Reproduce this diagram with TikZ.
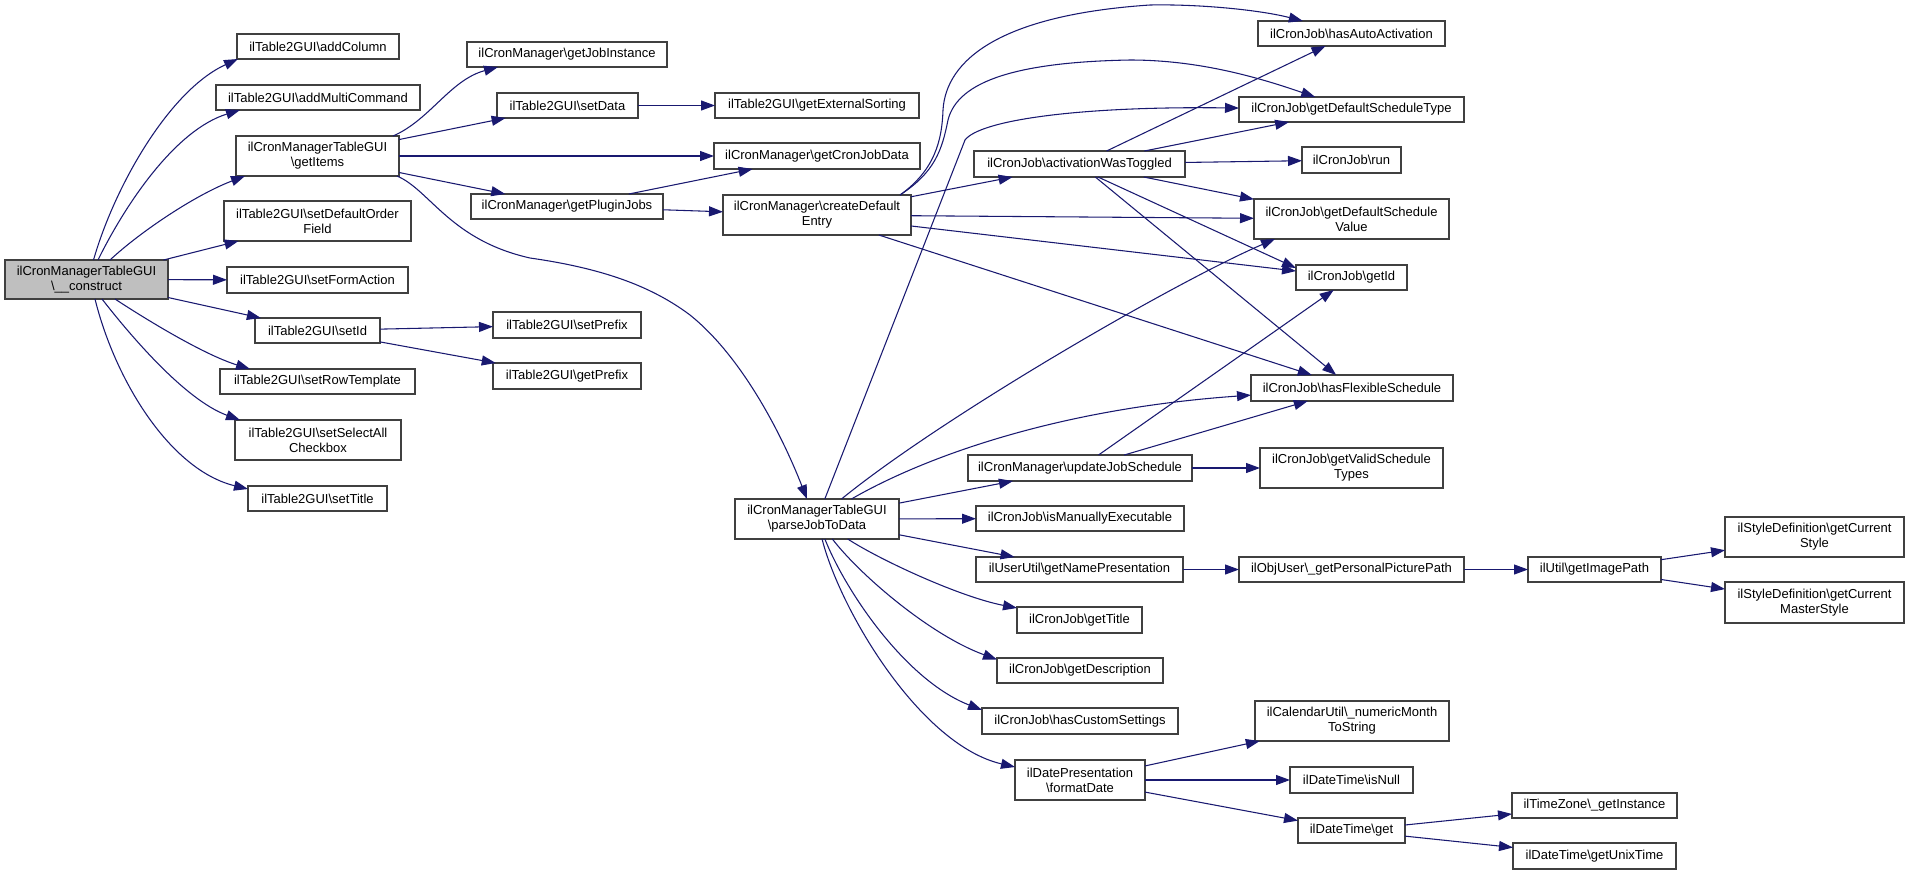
\documentclass[tikz,border=0pt]{standalone}
\usepackage{fontspec}
\setmainfont{Liberation Sans}
\usetikzlibrary{arrows.meta,calc}
\definecolor{edgeblue}{HTML}{191970}
\definecolor{boxline}{HTML}{404040}
\definecolor{rootfill}{HTML}{BFBFBF}
\newcommand{\fnbs}{\textbackslash}
\newcommand{\fnbox}[7][]{%
  \pgfmathsetmacro{\fnX}{(#3+#5)/2}%
  \pgfmathsetmacro{\fnY}{(#4+#6)/2}%
  \pgfmathsetmacro{\fnW}{(#5-#3)*0.75}%
  \pgfmathsetmacro{\fnH}{(#6-#4)*0.75}%
  \node[fnnode,#1,minimum width=\fnW pt,minimum height=\fnH pt] (#2) at (\fnX,\fnY) {#7};}
\tikzset{
  fnnode/.style={draw=boxline, line width=0.8pt, fill=white, inner sep=0pt, outer sep=0pt,
    align=center, text=black, font=\fontsize{9.75}{11.25}\selectfont},
  rootnode/.style={fill=rootfill},
  callarrow/.style={draw=edgeblue, line width=0.8pt, -{Triangle[length=10.5pt,width=7.5pt]}, fill=none}
}
\begin{document}
\begin{tikzpicture}[x=0.75pt,y=-0.75pt]
\useasboundingbox (0,0) rectangle (1909,875);
% nodes
\fnbox[rootnode]{constructNode}{5}{260}{168}{299}{ilCronManagerTableGUI\\\fnbs\_\_construct}
\fnbox{addColumn}{237}{34}{399}{59}{ilTable2GUI\fnbs addColumn}
\fnbox{addMultiCommand}{216}{85}{420}{110}{ilTable2GUI\fnbs addMultiCommand}
\fnbox{getItems}{236}{136}{399}{176}{ilCronManagerTableGUI\\\fnbs getItems}
\fnbox{setDefaultOrderField}{224}{201}{411}{241}{ilTable2GUI\fnbs setDefaultOrder\\Field}
\fnbox{setFormAction}{227}{267}{408}{293}{ilTable2GUI\fnbs setFormAction}
\fnbox{setId}{255}{318}{380}{343}{ilTable2GUI\fnbs setId}
\fnbox{setRowTemplate}{220}{369}{415}{394}{ilTable2GUI\fnbs setRowTemplate}
\fnbox{setSelectAll}{235}{420}{401}{460}{ilTable2GUI\fnbs setSelectAll\\Checkbox}
\fnbox{setTitle}{248}{486}{387}{511}{ilTable2GUI\fnbs setTitle}
\fnbox{getJobInstance}{467}{42}{667}{67}{ilCronManager\fnbs getJobInstance}
\fnbox{setData}{497}{93}{638}{118}{ilTable2GUI\fnbs setData}
\fnbox{getExternalSorting}{715}{93}{919}{118}{ilTable2GUI\fnbs getExternalSorting}
\fnbox{getCronJobData}{714}{143}{920}{169}{ilCronManager\fnbs getCronJobData}
\fnbox{getPluginJobs}{471}{194}{663}{219}{ilCronManager\fnbs getPluginJobs}
\fnbox{createDefaultEntry}{723}{195}{911}{235}{ilCronManager\fnbs createDefault\\Entry}
\fnbox{setPrefix}{493}{312}{641}{338}{ilTable2GUI\fnbs setPrefix}
\fnbox{getPrefix}{493}{363}{641}{389}{ilTable2GUI\fnbs getPrefix}
\fnbox{parseJobToData}{735}{499}{899}{539}{ilCronManagerTableGUI\\\fnbs parseJobToData}
\fnbox{hasAutoActivation}{1258}{21}{1445}{46}{ilCronJob\fnbs hasAutoActivation}
\fnbox{getDefaultScheduleType}{1239}{97}{1464}{122}{ilCronJob\fnbs getDefaultScheduleType}
\fnbox{activationWasToggled}{974}{151}{1185}{177}{ilCronJob\fnbs activationWasToggled}
\fnbox{run}{1302}{147}{1401}{173}{ilCronJob\fnbs run}
\fnbox{getDefaultScheduleValue}{1254}{199}{1449}{239}{ilCronJob\fnbs getDefaultSchedule\\Value}
\fnbox{getId}{1296}{265}{1407}{290}{ilCronJob\fnbs getId}
\fnbox{hasFlexibleSchedule}{1251}{375}{1453}{401}{ilCronJob\fnbs hasFlexibleSchedule}
\fnbox{updateJobSchedule}{968}{455}{1192}{481}{ilCronManager\fnbs updateJobSchedule}
\fnbox{getValidScheduleTypes}{1260}{448}{1443}{488}{ilCronJob\fnbs getValidSchedule\\Types}
\fnbox{isManuallyExecutable}{976}{506}{1184}{531}{ilCronJob\fnbs isManuallyExecutable}
\fnbox{getNamePresentation}{976}{557}{1183}{582}{ilUserUtil\fnbs getNamePresentation}
\fnbox{getPersonalPicturePath}{1239}{557}{1464}{582}{ilObjUser\fnbs\_getPersonalPicturePath}
\fnbox{getImagePath}{1528}{557}{1661}{582}{ilUtil\fnbs getImagePath}
\fnbox{getCurrentStyle}{1725}{517}{1904}{557}{ilStyleDefinition\fnbs getCurrent\\Style}
\fnbox{getCurrentMasterStyle}{1725}{582}{1904}{623}{ilStyleDefinition\fnbs getCurrent\\MasterStyle}
\fnbox{getTitle}{1017}{607}{1142}{633}{ilCronJob\fnbs getTitle}
\fnbox{getDescription}{997}{658}{1163}{683}{ilCronJob\fnbs getDescription}
\fnbox{hasCustomSettings}{982}{708}{1178}{734}{ilCronJob\fnbs hasCustomSettings}
\fnbox{formatDate}{1015}{760}{1145}{800}{ilDatePresentation\\\fnbs formatDate}
\fnbox{numericMonthToString}{1255}{701}{1449}{741}{ilCalendarUtil\fnbs\_numericMonth\\ToString}
\fnbox{isNull}{1290}{767}{1413}{793}{ilDateTime\fnbs isNull}
\fnbox{get}{1298}{818}{1405}{843}{ilDateTime\fnbs get}
\fnbox{getInstance}{1512}{793}{1677}{818}{ilTimeZone\fnbs\_getInstance}
\fnbox{getUnixTime}{1513}{843}{1676}{869}{ilDateTime\fnbs getUnixTime}
% edges from construct
\draw[callarrow] ($(constructNode.north)+(7,0)$) .. controls (115,185) and (170,90) .. ($(addColumn.south west)+(1,0)$);
\draw[callarrow] ($(constructNode.north)+(11.5,0)$) .. controls (125,205) and (175,130) .. ($(addMultiCommand.south west)+(24,0)$);
\draw[callarrow] ($(constructNode.north)+(23.5,0)$) .. controls (140,232) and (195,195) .. ($(getItems.south west)+(9,0)$);
\draw[callarrow] (constructNode) -- (setDefaultOrderField);
\draw[callarrow] (constructNode) -- (setFormAction);
\draw[callarrow] (constructNode) -- (setId);
\draw[callarrow] ($(constructNode.south)+(28.5,0)$) .. controls (150,322) and (205,355) .. ($(setRowTemplate.north west)+(30,0)$);
\draw[callarrow] ($(constructNode.south)+(15.5,0)$) .. controls (130,335) and (185,400) .. ($(setSelectAll.north west)+(5,0)$);
\draw[callarrow] ($(constructNode.south)+(8.5,0)$) .. controls (115,380) and (170,470) .. ($(setTitle.north west)+(0,3)$);
% edges from getItems
\draw[callarrow] ($(getItems.north east)+(-6,0)$) .. controls (430,120) and (450,80) .. ($(getJobInstance.south west)+(31,0)$);
\draw[callarrow] (getItems) -- (setData);
\draw[callarrow] (getItems) -- (getCronJobData);
\draw[callarrow] (getItems) -- (getPluginJobs);
\draw[callarrow] ($(getItems.south east)+(-2,0)$) .. controls (430,190) and (450,240) .. (530,258) .. controls (600,268) and (650,285) .. (690,315) .. controls (740,355) and (780,430) .. ($(parseJobToData.north)+(-10,0)$);
% second level
\draw[callarrow] (setData) -- (getExternalSorting);
\draw[callarrow] (setId) -- (setPrefix);
\draw[callarrow] (setId) -- (getPrefix);
\draw[callarrow] (getPluginJobs) -- (getCronJobData);
\draw[callarrow] (getPluginJobs) -- (createDefaultEntry);
% createDefaultEntry
\draw[callarrow] ($(createDefaultEntry.north east)+(-11,0)$) .. controls (935,170) and (942,140) .. (943,110) .. controls (946,60) and (1000,15) .. (1150,5) .. controls (1200,4) and (1260,10) .. (hasAutoActivation);
\draw[callarrow] ($(createDefaultEntry.north east)+(-11,0)$) .. controls (935,172) and (942,150) .. (948,120) .. controls (958,80) and (1020,62) .. (1130,60) .. controls (1200,60) and (1260,78) .. (getDefaultScheduleType);
\draw[callarrow] (createDefaultEntry) -- (activationWasToggled);
\draw[callarrow] (createDefaultEntry) -- (getDefaultScheduleValue);
\draw[callarrow] (createDefaultEntry) -- (getId);
\draw[callarrow] (createDefaultEntry) -- (hasFlexibleSchedule);
% activationWasToggled
\draw[callarrow] (activationWasToggled) -- (hasAutoActivation);
\draw[callarrow] (activationWasToggled) -- (getDefaultScheduleType);
\draw[callarrow] (activationWasToggled) -- (run);
\draw[callarrow] (activationWasToggled) -- (getDefaultScheduleValue);
\draw[callarrow] ($(activationWasToggled.south)+(18.5,0)$) -- ($(getId.west)+(0,-9.5)$);
\draw[callarrow] (activationWasToggled) -- (hasFlexibleSchedule);
% parseJobToData
\draw[callarrow] (parseJobToData) -- (965,140) .. controls (980,120) and (1080,106) .. (getDefaultScheduleType);
\draw[callarrow] (parseJobToData) .. controls (942,417) and (1175,282) .. ($(getDefaultScheduleValue.south west)+(21,0)$);
\draw[callarrow] (parseJobToData) .. controls (910,465) and (1040,410) .. (hasFlexibleSchedule);
\draw[callarrow] (parseJobToData) -- (updateJobSchedule);
\draw[callarrow] (parseJobToData) -- (isManuallyExecutable);
\draw[callarrow] (parseJobToData) -- (getNamePresentation);
\draw[callarrow] (parseJobToData) .. controls (880,560) and (960,597) .. (getTitle);
\draw[callarrow] (parseJobToData) .. controls (860,575) and (930,635) .. ($(getDescription.north west)+(0,1.5)$);
\draw[callarrow] (parseJobToData) .. controls (845,590) and (905,680) .. ($(hasCustomSettings.north west)+(0,2)$);
\draw[callarrow] (parseJobToData) .. controls (840,610) and (920,745) .. ($(formatDate.north west)+(0,7)$);
% updateJobSchedule
\draw[callarrow] (updateJobSchedule) -- (getId);
\draw[callarrow] (updateJobSchedule) -- (hasFlexibleSchedule);
\draw[callarrow] (updateJobSchedule) -- (getValidScheduleTypes);
% remaining chains
\draw[callarrow] (getNamePresentation) -- (getPersonalPicturePath);
\draw[callarrow] (getPersonalPicturePath) -- (getImagePath);
\draw[callarrow] (getImagePath) -- (getCurrentStyle);
\draw[callarrow] (getImagePath) -- (getCurrentMasterStyle);
\draw[callarrow] (formatDate) -- (numericMonthToString);
\draw[callarrow] (formatDate) -- (isNull);
\draw[callarrow] (formatDate) -- (get);
\draw[callarrow] (get) -- (getInstance);
\draw[callarrow] (get) -- (getUnixTime);
\end{tikzpicture}
\end{document}
